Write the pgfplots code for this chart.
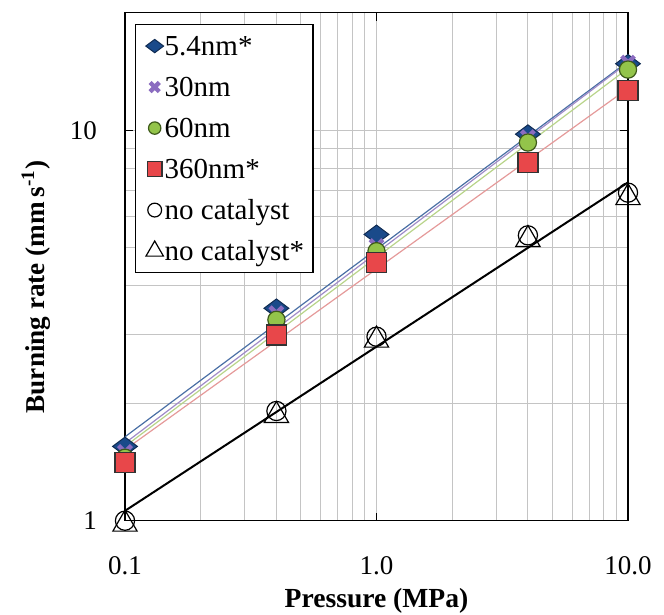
\documentclass[border=0pt]{standalone}
\usepackage{pgfplots}
\pgfplotsset{compat=1.18}
\usepackage{fontspec}
\setmainfont{Liberation Serif}
\definecolor{dblue}{HTML}{1A4A8A}
\definecolor{purp}{HTML}{8B6CC0}
\definecolor{greenM}{HTML}{93C44A}
\definecolor{dgreen}{HTML}{3E5A1A}
\definecolor{redM}{HTML}{E8474A}
\definecolor{lblue}{HTML}{4A6FA5}
\definecolor{lpurp}{HTML}{A08CC8}
\definecolor{lgreen}{HTML}{B8D48A}
\definecolor{lpink}{HTML}{E59A9A}
\definecolor{gridc}{HTML}{C4C4C4}
\begin{document}
\begin{tikzpicture}
\useasboundingbox (-62.5pt,-47.15pt) rectangle (269.5pt,260.35pt);
\begin{axis}[
  at={(0,0)}, anchor=south west,
  scale only axis, width=251.5pt, height=254pt,
  xmode=log, ymode=log,
  xmin=0.1, xmax=10, ymin=1, ymax=20,
  xtick={0.1,1,10}, xticklabels={0.1,1.0,10.0},
  ytick={1,10}, yticklabels={1,10},
  minor xtick={0.2,0.3,0.4,0.5,0.6,0.7,0.8,0.9,2,3,4,5,6,7,8,9},
  minor ytick={2,3,4,5,6,7,8,9},
  grid=both,
  major grid style={gridc, line width=0.5pt},
  minor grid style={gridc, line width=0.5pt},
  tick align=inside, major tick length=4pt, minor tick length=0pt,
  tick style={black, line width=0.6pt},
  axis line style={line width=0.7pt},
  /pgf/number format/assume math mode=true,
  xticklabel style={font=\fontsize{13.5}{16}\selectfont, yshift=-14.5pt},
  yticklabel style={font=\fontsize{13.5}{16}\selectfont, xshift=-10.5pt},
  xlabel={Pressure (MPa)},
  ylabel={Burning rate (mm\,s\textsuperscript{-1})},
  xlabel style={font=\fontsize{13.8}{16}\selectfont\bfseries, at={(axis description cs:0.5,0)}, anchor=center, yshift=-40pt},
  ylabel style={font=\fontsize{13.6}{16}\selectfont\bfseries, at={(axis description cs:-0.177,0.46)}, anchor=center},
  clip=false,
  legend style={at={(axis description cs:0.0199,0.978)}, anchor=north west,
    draw=black, line width=0.7pt, fill=white,
    font=\fontsize{14.5}{17}\selectfont,
    inner xsep=4.5pt, inner ysep=3.95pt, row sep=6.9pt, column sep=0pt,
    cells={anchor=west},
    nodes={inner sep=0pt, text height=11.6pt, text depth=2pt}},
  legend cell align=left,
  legend image code/.code={%
    \path[draw=none, fill=none] (-5pt,-4pt) rectangle (5pt,4pt);
    \draw[/tikz/every mark/.append style={scale=0.72}] plot coordinates {(0pt,0pt)};},
]
% trend lines
\addplot[lblue, line width=0.6pt, forget plot] coordinates {(0.1,1.64) (10,15.0)};
\addplot[lpurp, line width=0.6pt, forget plot] coordinates {(0.1,1.58) (10,14.9)};
\addplot[lgreen, line width=0.6pt, forget plot] coordinates {(0.1,1.55) (10,14.4)};
\addplot[lpink, line width=0.6pt, forget plot] coordinates {(0.1,1.52) (10,12.8)};
\addplot[black, line width=1pt, forget plot] coordinates {(0.1,1.06) (10,7.35)};
% markers
\addplot[only marks, mark=diamond*, mark size=6.2pt,
  mark options={rotate=90, fill=dblue, draw=dblue!60!black, line width=0.5pt}]
  coordinates {(0.1,1.55) (0.4,3.50) (1,5.41) (4,9.77) (10,14.8)};
\addlegendentry{5.4nm*}
\addplot[only marks, mark=x, mark size=4.5pt,
  mark options={draw=purp, line width=2.2pt}]
  coordinates {(0.1,1.50) (0.4,3.40) (1,5.05) (4,9.6) (10,14.9)};
\addlegendentry{30nm}
\addplot[only marks, mark=*, mark size=4.3pt,
  mark options={fill=greenM, draw=dgreen, line width=0.6pt}]
  coordinates {(0.1,1.45) (0.4,3.27) (1,4.90) (4,9.30) (10,14.3)};
\addlegendentry{60nm}
\addplot[only marks, mark=square*, mark size=5pt,
  mark options={fill=redM, draw=black!80, line width=0.6pt}]
  coordinates {(0.1,1.41) (0.4,2.99) (1,4.58) (4,8.26) (10,12.65)};
\addlegendentry{360nm*}
\addplot[only marks, mark=o, mark size=4.8pt,
  mark options={draw=black, line width=0.6pt}]
  coordinates {(0.1,1.0) (0.4,1.91) (1,2.96) (4,5.38) (10,6.92)};
\addlegendentry{no catalyst}
\addplot[only marks, mark=triangle, mark size=7pt,
  mark options={draw=black, line width=0.6pt}]
  coordinates {(0.1,0.98) (0.4,1.86) (1,2.90) (4,5.25) (10,6.72)};
\addlegendentry{no catalyst*}
\end{axis}
\end{tikzpicture}
\end{document}
